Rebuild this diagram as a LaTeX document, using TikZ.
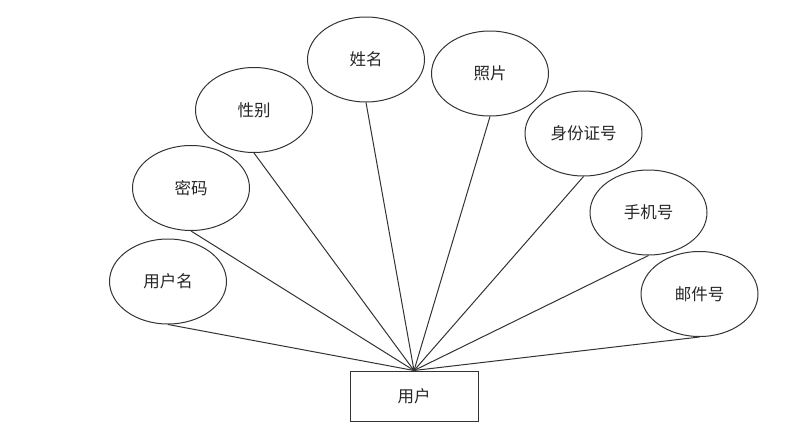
\documentclass[tikz,border=0pt]{standalone}
\usepackage{fontspec}
\newfontfamily\cjk{Noto Sans CJK SC}
\usetikzlibrary{shapes.geometric}
\begin{document}
\begin{tikzpicture}[x=1pt,y=-1pt,
  attr/.style={draw=black!80,line width=1pt,ellipse,minimum width=117pt,minimum height=85pt,inner sep=0pt,font=\cjk\fontsize{16.5}{19}\selectfont,text=black!85},
  ent/.style={draw=black!80,line width=1pt,rectangle,minimum width=128pt,minimum height=50pt,inner sep=0pt,font=\cjk\fontsize{16.5}{19}\selectfont,text=black!85},
  link/.style={draw=black!80,line width=1pt}]
\useasboundingbox (0,0) rectangle (805,431);
\node[ent] (u) at (414,396) {用户};
\node[attr] (a1) at (168,281.5) {用户名};
\node[attr] (a2) at (191,188) {密码};
\node[attr] (a3) at (254,110) {性别};
\node[attr] (a4) at (366,59.5) {姓名};
\node[attr] (a5) at (490,73.5) {照片};
\node[attr] (a6) at (583.5,133.5) {身份证号};
\node[attr] (a7) at (648.5,212.5) {手机号};
\node[attr] (a8) at (699.5,294) {邮件号};
\foreach \n in {a1,a2,a3,a4,a5,a6,a7,a8}
  \draw[link] (\n.south) -- (u.north);
\end{tikzpicture}
\end{document}
